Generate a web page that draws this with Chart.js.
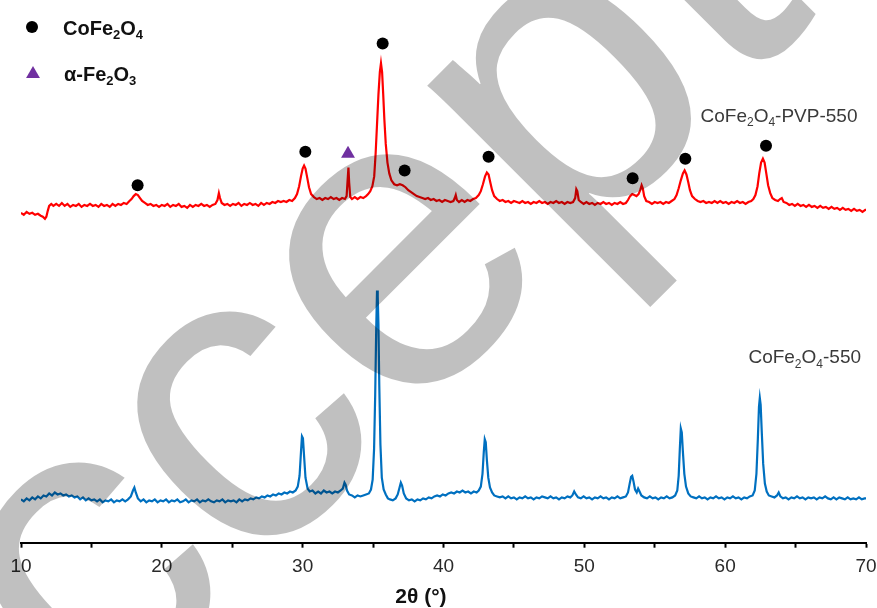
<!DOCTYPE html>
<html>
<head>
<meta charset="utf-8">
<script src="https://cdn.jsdelivr.net/npm/chart.js@4.4.1/dist/chart.umd.min.js"></script>
<style>
  html, body { margin: 0; padding: 0; background: #fff; }
  canvas { display: block; }
</style>
</head>
<body>
<canvas id="xrd" width="877" height="608"></canvas>
<script>
// XRD patterns, 2θ (degrees) vs intensity (a.u., stacked for display)

// CoFe2O4 calcined at 550 °C
const pattern550 = [
  [10.0,44],[10.2,42],[10.4,45],[10.6,43],[10.8,46],[11.0,44],[11.2,47],[11.4,45],[11.6,48],[11.8,47],
  [12.0,50],[12.2,48],[12.4,51],[12.6,49],[12.8,50],[13.0,48],[13.2,49],[13.4,47],[13.6,48],[13.8,46],
  [14.0,47],[14.2,44],[14.4,46],[14.6,43],[14.8,45],[15.0,43],[15.2,44],[15.4,42],[15.6,44],[15.8,41],
  [16.0,43],[16.2,42],[16.4,44],[16.6,41],[16.8,43],[17.0,42],[17.2,44],[17.4,42],[17.6,44],[17.8,47],
  [17.95,53],[18.05,56],[18.15,51],[18.3,45],[18.5,42],[18.7,44],[18.9,41],[19.1,43],[19.3,42],[19.5,44],
  [19.7,41],[19.9,43],[20.1,42],[20.3,44],[20.5,41],[20.7,43],[20.9,42],[21.1,44],[21.3,41],[21.5,42],
  [21.7,44],[21.9,41],[22.1,43],[22.3,42],[22.5,44],[22.7,41],[22.9,43],[23.1,42],[23.3,44],[23.5,42],
  [23.7,41],[23.9,43],[24.1,42],[24.3,44],[24.5,41],[24.7,43],[24.9,42],[25.1,43],[25.3,41],[25.5,44],
  [25.7,42],[25.9,44],[26.1,43],[26.3,45],[26.5,44],[26.7,46],[26.9,45],[27.1,47],[27.3,46],[27.5,48],
  [27.7,47],[27.9,49],[28.1,48],[28.3,50],[28.5,49],[28.7,51],[28.9,50],[29.1,52],[29.3,51],[29.5,53],
  [29.65,57],[29.78,68],[29.88,92],[29.95,108],[30.02,106],[30.1,88],[30.2,66],[30.35,55],[30.5,52],[30.7,53],
  [30.9,50],[31.1,52],[31.3,50],[31.5,53],[31.7,51],[31.9,52],[32.1,50],[32.3,52],[32.5,51],[32.7,53],
  [32.85,55],[32.97,61],[33.05,59],[33.15,53],[33.3,49],[33.5,48],[33.7,46],[33.9,48],[34.1,47],[34.3,48],
  [34.5,49],[34.7,50],[34.85,54],[34.97,64],[35.07,95],[35.15,150],[35.22,215],[35.28,256],[35.33,250],[35.38,222],
  [35.44,160],[35.52,100],[35.62,66],[35.75,54],[35.9,49],[36.05,45],[36.2,44],[36.4,43],[36.6,45],[36.75,49],
  [36.88,56],[36.97,61],[37.06,58],[37.18,50],[37.35,45],[37.55,43],[37.75,44],[37.95,42],[38.15,44],[38.35,43],
  [38.55,45],[38.75,44],[38.95,46],[39.15,45],[39.35,47],[39.55,48],[39.75,47],[39.95,49],[40.15,48],[40.35,50],
  [40.55,51],[40.75,50],[40.95,52],[41.15,51],[41.35,53],[41.55,51],[41.75,52],[41.95,50],[42.15,52],[42.35,51],
  [42.5,53],[42.65,57],[42.77,70],[42.86,92],[42.93,105],[43.0,102],[43.08,84],[43.18,66],[43.3,56],[43.45,51],
  [43.6,48],[43.8,47],[44.0,46],[44.2,47],[44.4,45],[44.6,47],[44.8,45],[45.0,46],[45.2,44],[45.4,46],
  [45.6,45],[45.8,47],[46.0,45],[46.2,46],[46.4,44],[46.6,46],[46.8,45],[47.0,47],[47.2,46],[47.4,45],
  [47.6,47],[47.8,45],[48.0,46],[48.2,44],[48.4,46],[48.6,45],[48.8,47],[49.0,46],[49.15,48],[49.28,52],
  [49.4,49],[49.55,46],[49.75,45],[49.95,47],[50.15,45],[50.35,46],[50.55,44],[50.75,46],[50.95,45],[51.15,47],
  [51.35,45],[51.55,46],[51.75,44],[51.95,46],[52.15,45],[52.35,47],[52.55,45],[52.75,46],[52.95,47],[53.1,51],
  [53.22,60],[53.32,67],[53.4,68],[53.48,63],[53.6,54],[53.72,51],[53.82,55],[53.92,52],[54.05,48],[54.25,46],
  [54.45,45],[54.65,47],[54.85,45],[55.05,46],[55.25,44],[55.45,46],[55.65,45],[55.85,47],[56.05,45],[56.25,46],
  [56.45,48],[56.6,53],[56.7,68],[56.78,95],[56.85,116],[56.92,112],[57.0,92],[57.1,70],[57.22,57],[57.38,50],
  [57.55,47],[57.75,46],[57.95,45],[58.15,47],[58.35,45],[58.55,46],[58.75,44],[58.95,46],[59.15,45],[59.35,47],
  [59.55,45],[59.75,46],[59.95,44],[60.15,46],[60.35,45],[60.55,47],[60.75,45],[60.95,46],[61.15,44],[61.35,46],
  [61.55,45],[61.75,47],[61.95,48],[62.1,53],[62.22,70],[62.32,105],[62.4,138],[62.46,147],[62.52,140],[62.6,112],
  [62.7,80],[62.82,60],[62.95,52],[63.1,48],[63.3,47],[63.5,46],[63.68,48],[63.8,51],[63.92,47],[64.1,45],
  [64.3,46],[64.5,44],[64.7,46],[64.9,45],[65.1,47],[65.3,45],[65.5,46],[65.7,44],[65.9,46],[66.1,45],
  [66.3,46],[66.5,44],[66.7,46],[66.9,45],[67.1,47],[67.3,45],[67.5,44],[67.7,46],[67.9,44],[68.1,46],
  [68.3,45],[68.5,44],[68.7,46],[68.9,44],[69.1,45],[69.3,44],[69.5,46],[69.7,44],[69.9,45],[70.0,45]
];

// CoFe2O4 prepared with PVP, calcined at 550 °C (offset upwards)
const patternPVP550 = [
  [10.0,335],[10.2,333],[10.4,336],[10.6,334],[10.8,335],[11.0,333],[11.2,334],[11.4,332],[11.55,331],[11.7,329],
  [11.8,331],[11.9,337],[12.0,342],[12.15,344],[12.3,342],[12.5,344],[12.7,342],[12.9,345],[13.1,342],[13.3,344],
  [13.5,341],[13.7,343],[13.9,342],[14.1,344],[14.3,341],[14.5,343],[14.7,342],[14.9,344],[15.1,342],[15.3,343],
  [15.5,341],[15.7,344],[15.9,342],[16.1,343],[16.3,341],[16.5,344],[16.7,342],[16.9,344],[17.1,343],[17.3,345],
  [17.5,344],[17.7,347],[17.85,349],[18.0,352],[18.15,354],[18.3,353],[18.45,350],[18.6,347],[18.8,345],[19.0,343],
  [19.2,344],[19.4,342],[19.6,343],[19.8,341],[20.0,343],[20.2,342],[20.4,344],[20.6,341],[20.8,343],[21.0,342],
  [21.2,344],[21.4,341],[21.6,342],[21.8,340],[22.0,343],[22.2,341],[22.4,343],[22.6,342],[22.8,344],[23.0,342],
  [23.2,343],[23.4,341],[23.6,343],[23.8,344],[23.95,348],[24.05,355],[24.13,350],[24.25,345],[24.45,343],[24.65,344],
  [24.85,342],[25.05,344],[25.25,343],[25.45,345],[25.65,342],[25.85,344],[26.05,343],[26.25,345],[26.45,343],[26.65,344],
  [26.85,342],[27.05,345],[27.25,343],[27.45,345],[27.65,344],[27.85,346],[28.05,345],[28.25,347],[28.45,346],[28.65,347],
  [28.85,346],[29.05,348],[29.25,347],[29.45,350],[29.6,354],[29.75,362],[29.88,372],[30.0,380],[30.1,383],[30.2,380],
  [30.32,371],[30.45,361],[30.6,354],[30.8,351],[31.0,349],[31.2,350],[31.4,348],[31.6,350],[31.8,349],[32.0,351],
  [32.2,349],[32.4,350],[32.6,348],[32.8,350],[33.0,349],[33.12,352],[33.2,370],[33.25,381],[33.3,366],[33.38,351],
  [33.5,349],[33.7,351],[33.9,349],[34.1,351],[34.3,350],[34.5,352],[34.65,354],[34.8,357],[34.95,362],[35.08,372],
  [35.18,395],[35.28,425],[35.38,455],[35.48,478],[35.56,487],[35.64,478],[35.72,455],[35.8,430],[35.9,405],[36.02,386],
  [36.15,375],[36.3,368],[36.5,364],[36.7,363],[36.9,364],[37.1,363],[37.3,361],[37.5,358],[37.7,356],[37.9,354],
  [38.1,352],[38.3,351],[38.5,350],[38.7,349],[38.9,350],[39.1,348],[39.3,349],[39.5,347],[39.7,348],[39.9,346],
  [40.1,348],[40.3,347],[40.5,346],[40.7,347],[40.8,350],[40.87,353],[40.95,348],[41.1,346],[41.3,348],[41.5,346],
  [41.7,348],[41.9,347],[42.1,349],[42.3,350],[42.5,353],[42.65,357],[42.8,364],[42.95,372],[43.08,376],[43.2,374],
  [43.32,366],[43.45,358],[43.6,352],[43.8,349],[44.0,347],[44.2,348],[44.4,346],[44.6,347],[44.8,345],[45.0,347],
  [45.2,346],[45.4,345],[45.6,347],[45.8,345],[46.0,346],[46.2,344],[46.4,346],[46.6,345],[46.8,347],[47.0,345],
  [47.2,346],[47.4,344],[47.6,346],[47.8,345],[48.0,347],[48.2,345],[48.4,346],[48.6,344],[48.8,346],[49.0,345],
  [49.2,346],[49.35,350],[49.43,359],[49.5,357],[49.6,348],[49.75,346],[49.95,344],[50.15,346],[50.35,344],[50.55,345],
  [50.75,343],[50.95,345],[51.15,344],[51.35,346],[51.55,344],[51.75,345],[51.95,343],[52.15,345],[52.35,344],[52.55,346],
  [52.75,344],[52.95,345],[53.1,348],[53.25,352],[53.4,354],[53.55,353],[53.7,352],[53.85,354],[53.97,358],[54.07,363],
  [54.15,360],[54.25,352],[54.4,347],[54.6,346],[54.8,344],[55.0,346],[55.2,345],[55.4,346],[55.6,344],[55.8,346],
  [56.0,345],[56.2,347],[56.4,349],[56.55,353],[56.7,360],[56.85,368],[57.0,375],[57.12,378],[57.25,374],[57.38,366],
  [57.5,358],[57.65,352],[57.85,349],[58.05,347],[58.25,346],[58.45,347],[58.65,345],[58.85,346],[59.05,345],[59.25,347],
  [59.45,345],[59.65,347],[59.85,345],[60.05,346],[60.25,344],[60.45,346],[60.65,345],[60.85,347],[61.05,345],[61.25,346],
  [61.45,344],[61.65,346],[61.85,347],[62.0,349],[62.15,353],[62.3,362],[62.42,375],[62.55,386],[62.68,390],[62.8,386],
  [62.92,375],[63.05,363],[63.2,355],[63.35,350],[63.55,348],[63.75,347],[63.9,349],[64.02,350],[64.15,346],[64.35,345],
  [64.55,343],[64.75,344],[64.95,342],[65.15,344],[65.35,342],[65.55,343],[65.75,341],[65.95,343],[66.15,341],[66.35,342],
  [66.55,340],[66.75,342],[66.95,340],[67.15,341],[67.35,339],[67.55,341],[67.75,339],[67.95,340],[68.15,338],[68.35,340],
  [68.55,338],[68.75,339],[68.95,337],[69.15,339],[69.35,337],[69.55,338],[69.75,336],[69.95,338],[70.0,338]
];

// Reflection markers above the PVP pattern
const spinelPeakAngles  = [18.28, 30.19, 35.68, 37.24, 43.2, 53.43, 57.17, 62.9];
const spinelMarkLevels  = [363, 397, 507, 378, 392, 370, 390, 403];
const hematitePeakAngles = [33.22];
const hematiteMarkLevels = [395];

const xTickStep = 5;           // minor ticks every 5°, labels every 10°
const xRange = [10, 70];

const FONT = '"Liberation Sans", Arial, Helvetica, sans-serif';

const toPoints = rows => rows.map(([x, y]) => ({ x, y }));
const zipPoints = (xs, ys) => xs.map((x, i) => ({ x, y: ys[i] }));

// Text with "_n" marking a subscript character
function drawFormula(ctx, text, x, y, size, weight, color) {
  ctx.save();
  ctx.fillStyle = color;
  ctx.textAlign = 'left';
  ctx.textBaseline = 'alphabetic';
  let cx = x;
  for (const part of text.split(/(_\d)/)) {
    if (!part) continue;
    const sub = part[0] === '_';
    const s = sub ? part.slice(1) : part;
    const fs = sub ? Math.round(size * 0.65) : size;
    ctx.font = `${weight} ${fs}px ${FONT}`;
    ctx.fillText(s, cx, sub ? y + size * 0.22 : y);
    cx += ctx.measureText(s).width;
  }
  ctx.restore();
}

const whiteBackground = {
  id: 'whiteBackground',
  beforeDraw(chart) {
    const { ctx, width, height } = chart;
    ctx.save();
    ctx.fillStyle = '#fff';
    ctx.fillRect(0, 0, width, height);
    ctx.restore();
  }
};

const annotations = {
  id: 'annotations',
  afterDraw(chart, args, opts) {
    const ctx = chart.ctx;
    const xs = chart.scales.x, ys = chart.scales.y;

    // phase key
    for (const item of opts.key) {
      ctx.save();
      ctx.fillStyle = item.color;
      ctx.beginPath();
      if (item.shape === 'circle') {
        ctx.arc(item.mx, item.my, 6, 0, Math.PI * 2);
      } else {
        const r = 8;
        ctx.moveTo(item.mx, item.my - r);
        ctx.lineTo(item.mx + r * Math.sin(Math.PI / 3), item.my + r / 2);
        ctx.lineTo(item.mx - r * Math.sin(Math.PI / 3), item.my + r / 2);
        ctx.closePath();
      }
      ctx.fill();
      ctx.restore();
      drawFormula(ctx, item.text, item.tx, item.ty, 20, 'bold', '#111');
    }

    // pattern names
    for (const lab of opts.patternNames) {
      drawFormula(ctx, lab.text, xs.getPixelForValue(lab.x), ys.getPixelForValue(lab.y), 19, 'normal', '#3a3a3a');
    }

    // axis title
    ctx.save();
    ctx.font = `bold 21px ${FONT}`;
    ctx.fillStyle = '#111';
    ctx.textAlign = 'center';
    ctx.textBaseline = 'alphabetic';
    ctx.fillText(opts.axisTitle.text, xs.getPixelForValue(opts.axisTitle.x), opts.axisTitle.y);
    ctx.restore();
  }
};

const watermark = {
  id: 'watermark',
  afterDraw(chart, args, opts) {
    const ctx = chart.ctx;
    ctx.save();
    ctx.globalCompositeOperation = 'multiply';
    ctx.translate(opts.x, opts.y);
    ctx.rotate(opts.angle);
    ctx.font = `${opts.size}px ${FONT}`;
    ctx.fillStyle = opts.color;
    ctx.textBaseline = 'alphabetic';
    ctx.fillText(opts.text, 0, 0);
    ctx.restore();
  }
};

new Chart(document.getElementById('xrd'), {
  type: 'line',
  data: {
    datasets: [
      {
        label: 'CoFe2O4-PVP-550',
        data: toPoints(patternPVP550),
        borderColor: '#ff0000',
        borderWidth: 2.2,
        pointRadius: 0,
        tension: 0
      },
      {
        label: 'CoFe2O4-550',
        data: toPoints(pattern550),
        borderColor: '#0070c0',
        borderWidth: 2.2,
        pointRadius: 0,
        tension: 0
      },
      {
        label: 'CoFe2O4 reflections',
        data: zipPoints(spinelPeakAngles, spinelMarkLevels),
        showLine: false,
        pointStyle: 'circle',
        pointRadius: 6,
        pointBackgroundColor: '#000',
        pointBorderWidth: 0
      },
      {
        label: 'α-Fe2O3 reflections',
        data: zipPoints(hematitePeakAngles, hematiteMarkLevels),
        showLine: false,
        pointStyle: 'triangle',
        pointRadius: 8,
        pointBackgroundColor: '#7030a0',
        pointBorderWidth: 0
      }
    ]
  },
  options: {
    responsive: false,
    animation: false,
    devicePixelRatio: 1,
    layout: { padding: { left: 21, right: 11, top: 0, bottom: 0 } },
    scales: {
      x: {
        type: 'linear',
        min: xRange[0],
        max: xRange[1],
        border: { display: true, color: '#000', width: 2 },
        grid: { display: true, drawOnChartArea: false, drawTicks: true, tickLength: 5, tickColor: '#000', tickWidth: 2 },
        ticks: {
          stepSize: xTickStep,
          autoSkip: false,
          maxRotation: 0,
          padding: 8,
          color: '#2a2a2a',
          font: { family: FONT, size: 19 },
          callback: v => (v % 10 === 0 ? String(v) : '')
        },
        // fixed band below the plot for tick labels and the axis title
        afterFit(scale) {
          scale.height = 65.3;
          scale.paddingLeft = 0;
          scale.paddingRight = 0;
        }
      },
      y: { display: false, min: 0, max: 543 }
    },
    plugins: {
      legend: { display: false },
      tooltip: { enabled: false },
      annotations: {
        key: [
          { shape: 'circle', color: '#000', mx: 32, my: 27, text: 'CoFe_2O_4', tx: 63, ty: 35 },
          { shape: 'triangle', color: '#7030a0', mx: 33, my: 74, text: 'α-Fe_2O_3', tx: 64, ty: 81 }
        ],
        patternNames: [
          { text: 'CoFe_2O_4-PVP-550', x: 58.25, y: 427 },
          { text: 'CoFe_2O_4-550', x: 61.65, y: 182 }
        ],
        axisTitle: { text: '2θ (°)', x: 38.4, y: 603 }
      },
      watermark: { text: 'Accepted', x: -104, y: 936, angle: -Math.PI / 4, size: 427, color: '#c0c0c0' }
    }
  },
  plugins: [whiteBackground, annotations, watermark]
});
</script>
</body>
</html>
